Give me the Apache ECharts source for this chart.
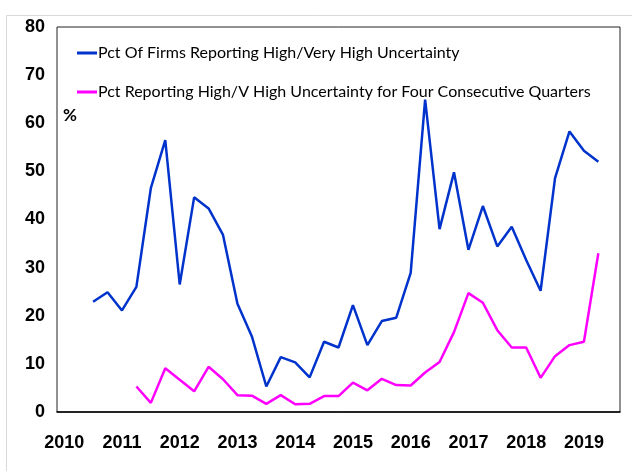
<!DOCTYPE html>
<html>
<head>
<meta charset="utf-8">
<script src="https://cdn.jsdelivr.net/npm/echarts@6/dist/echarts.min.js"></script>
<style>
  html, body { margin: 0; padding: 0; background: #fff; }
  #main { width: 632px; height: 471px; }
</style>
</head>
<body>
<div id="main"></div>
<script>
// quarters 2010Q1 .. 2019Q3
var years = ['2010', '2011', '2012', '2013', '2014', '2015', '2016', '2017', '2018', '2019'];
var quarters = [];
years.forEach(function (y) {
    ['Q1', 'Q2', 'Q3', 'Q4'].forEach(function (q) { quarters.push(y + q); });
});
quarters = quarters.slice(0, 39);

// Pct of firms reporting high/very high uncertainty (from 2010Q3)
var highUncertainty = [null, null,
    22.9, 24.9, 21.1, 26.0, 46.5, 56.5, 26.5, 44.6, 42.3, 36.8, 22.5, 15.7, 5.3,
    11.4, 10.3, 7.2, 14.6, 13.4, 22.2, 13.9, 18.9, 19.6, 28.9,
    64.9, 38.0, 49.8, 33.7, 42.8, 34.4, 38.5, 31.6, 25.2, 48.6, 58.3, 54.3, 52.0];

// Pct reporting high/v high uncertainty for four consecutive quarters (from 2011Q2)
var fourQuarters = [null, null, null, null, null,
    5.3, 1.9, 9.1, 6.7, 4.3, 9.4, 6.8, 3.5, 3.4, 1.7,
    3.5, 1.6, 1.7, 3.3, 3.3, 6.1, 4.5, 6.9, 5.6, 5.5,
    8.2, 10.4, 16.6, 24.7, 22.7, 17.0, 13.4, 13.4, 7.1, 11.6, 13.9, 14.6, 33.0];

var legendFont = 'Lato, sans-serif';
var axisFont = '"Liberation Sans", sans-serif';

var myChart = echarts.init(document.getElementById('main'));

option = {
    animation: false,
    backgroundColor: '#fff',
    graphic: [
        {
            type: 'rect',
            shape: { x: 6.5, y: 15.5, width: 640, height: 470 },
            style: { fill: 'none', stroke: '#d9d9d9', lineWidth: 1 },
            z: -10
        },
        {
            type: 'text',
            left: 63, top: 107,
            style: { text: '%', fontSize: 17, fontWeight: 'bold', fontFamily: legendFont, fill: '#000' }
        }
    ],
    legend: {
        orient: 'vertical',
        left: 72,
        top: 40,
        itemGap: 23,
        itemWidth: 20,
        itemHeight: 3,
        icon: 'rect',
        textStyle: { fontSize: 16, fontFamily: legendFont, color: '#000', padding: [0, 0, 0, -4] },
        data: ['Pct Of Firms Reporting High/Very High Uncertainty',
               'Pct Reporting High/V High Uncertainty for Four Consecutive Quarters']
    },
    grid: {
        left: 57,
        right: 12,
        top: 27,
        bottom: 59,
        show: true,
        borderColor: '#222',
        borderWidth: 1
    },
    xAxis: {
        type: 'category',
        boundaryGap: true,
        data: quarters,
        axisLine: { lineStyle: { color: '#000', width: 1.5 } },
        axisTick: { show: false },
        axisLabel: {
            interval: 3,
            margin: 22,
            fontSize: 18,
            fontWeight: 'bold',
            fontFamily: axisFont,
            color: '#000',
            formatter: function (v) { return v.slice(0, 4); }
        }
    },
    yAxis: {
        type: 'value',
        min: 0,
        max: 80,
        interval: 10,
        axisLine: { show: false },
        axisTick: { show: false },
        splitLine: { show: false },
        axisLabel: {
            margin: 12,
            fontSize: 18,
            fontWeight: 'bold',
            fontFamily: axisFont,
            color: '#000'
        }
    },
    series: [
        {
            name: 'Pct Of Firms Reporting High/Very High Uncertainty',
            type: 'line',
            data: highUncertainty,
            symbol: 'none',
            color: '#0033cc',
            lineStyle: { width: 2.5, color: '#0033cc' }
        },
        {
            name: 'Pct Reporting High/V High Uncertainty for Four Consecutive Quarters',
            type: 'line',
            data: fourQuarters,
            symbol: 'none',
            color: '#ff00ff',
            lineStyle: { width: 2.5, color: '#ff00ff' }
        }
    ]
};
myChart.setOption(option);
</script>
</body>
</html>
